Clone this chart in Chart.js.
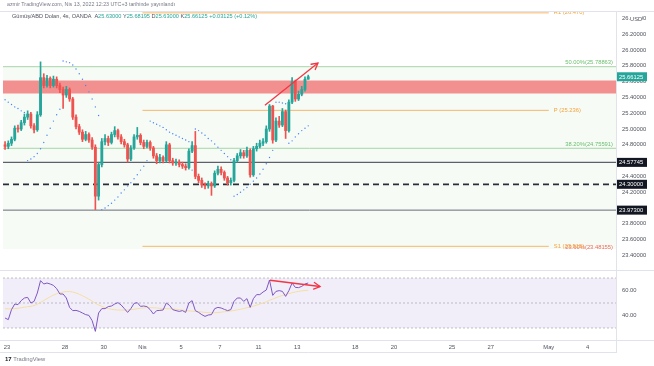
<!DOCTYPE html>
<html>
<head>
<meta charset="utf-8">
<script src="https://cdn.jsdelivr.net/npm/chart.js@4.4.1/dist/chart.umd.min.js"></script>
<style>
  html, body { margin:0; padding:0; background:#ffffff; }
  body { width:654px; height:366px; position:relative; overflow:hidden; font-family:"Liberation Sans", Arial, sans-serif; }
  canvas { position:absolute; left:0; }
  #mainCanvas { top:0; }
  #rsiCanvas { top:270px; }
  .txt { position:absolute; white-space:nowrap; line-height:1; }
  #hdr1 { left:7px; top:2px; font-size:5.3px; color:#787b86; }
  #hdr2 { left:12px; top:14px; font-size:5.6px; color:#50535e; }
  #hdr2 .v { color:#26a69a; }
  #logo { left:5px; top:356px; font-size:5.8px; color:#787b86; }
  #logo b { color:#131722; font-size:6px; }
</style>
</head>
<body>
<canvas id="mainCanvas" width="654" height="270"></canvas>
<canvas id="rsiCanvas" width="654" height="96"></canvas>
<div id="hdr1" class="txt">azmir TradingView.com, Nis 13, 2022 12:23 UTC+3 tarihinde yayınlandı</div>
<div id="hdr2" class="txt">Gümüş/ABD Doları, 4s, OANDA&nbsp; A<span class="v">25.63000</span> Y<span class="v">25.68195</span> D<span class="v">25.63000</span> K<span class="v">25.66125</span> <span class="v">+0.03125 (+0.12%)</span></div>
<div id="logo" class="txt"><b>17</b> TradingView</div>
<script>
// ================= DATA =================
const candleOpen  = [24.80,24.78,24.82,24.87,25.01,25.00,25.08,25.15,25.19,25.04,24.99,25.18,25.65,25.55,25.64,25.55,25.63,25.55,25.50,25.43,25.50,25.38,25.15,25.03,24.96,24.87,24.93,24.86,24.77,24.15,24.55,24.84,24.88,24.83,24.93,24.98,24.90,24.84,24.80,24.62,24.76,24.90,24.92,24.83,24.78,24.83,24.76,24.66,24.60,24.64,24.60,24.80,24.60,24.57,24.58,24.55,24.53,24.51,24.72,24.79,24.40,24.35,24.29,24.28,24.31,24.28,24.44,24.49,24.45,24.38,24.32,24.35,24.60,24.66,24.70,24.66,24.73,24.42,24.75,24.78,24.82,24.84,25.00,25.29,24.86,25.10,25.05,25.22,24.98,25.34,25.60,25.38,25.44,25.50,25.63];
const candleHigh  = [24.84,24.85,24.90,25.04,25.05,25.11,25.19,25.23,25.21,25.07,25.22,25.85,25.70,25.68,25.66,25.67,25.66,25.58,25.53,25.54,25.52,25.40,25.18,25.06,24.99,24.97,24.95,24.89,24.80,24.58,24.88,24.93,24.91,24.96,25.03,25.00,24.93,24.87,24.82,24.79,24.93,25.02,24.94,24.86,24.86,24.85,24.78,24.69,24.68,24.66,24.84,24.82,24.63,24.62,24.61,24.58,24.56,24.75,24.84,24.97,24.43,24.38,24.32,24.34,24.33,24.47,24.53,24.52,24.47,24.40,24.38,24.63,24.69,24.74,24.73,24.77,24.75,24.78,24.82,24.86,24.88,25.04,25.31,25.30,25.14,25.16,25.26,25.24,25.37,25.65,25.62,25.48,25.54,25.66,25.68195];
const candleLow   = [24.74,24.75,24.79,24.85,24.96,24.98,25.05,25.12,25.01,24.95,24.97,25.16,25.52,25.53,25.52,25.53,25.52,25.46,25.26,25.40,25.35,25.12,25.00,24.93,24.84,24.85,24.83,24.74,23.98,24.10,24.52,24.80,24.79,24.81,24.90,24.87,24.81,24.77,24.58,24.60,24.74,24.87,24.80,24.75,24.76,24.73,24.63,24.56,24.57,24.57,24.58,24.57,24.54,24.54,24.52,24.50,24.48,24.49,24.70,24.37,24.32,24.26,24.24,24.25,24.16,24.26,24.42,24.42,24.35,24.29,24.29,24.33,24.58,24.63,24.63,24.64,24.39,24.40,24.72,24.76,24.79,24.82,24.97,24.82,24.84,25.02,25.03,24.88,24.96,25.32,25.35,25.36,25.42,25.48,25.63];
const candleClose = [24.78,24.82,24.87,25.01,25.00,25.08,25.15,25.19,25.04,24.99,25.18,25.65,25.55,25.64,25.55,25.63,25.55,25.50,25.43,25.50,25.38,25.15,25.03,24.96,24.87,24.93,24.86,24.77,24.15,24.55,24.84,24.88,24.83,24.93,24.98,24.90,24.84,24.80,24.62,24.76,24.90,24.92,24.83,24.78,24.83,24.76,24.66,24.60,24.64,24.60,24.80,24.60,24.57,24.58,24.55,24.53,24.51,24.72,24.79,24.40,24.35,24.29,24.28,24.31,24.28,24.44,24.49,24.45,24.38,24.32,24.35,24.60,24.66,24.70,24.66,24.73,24.42,24.75,24.78,24.82,24.84,25.00,25.29,24.86,25.10,25.05,25.22,24.98,25.34,25.60,25.38,25.44,25.50,25.63,25.66125];
const sarValues   = [25.37,25.34,25.31,25.28,25.26,25.23,25.21,
                     24.60,24.62,24.65,24.69,24.75,24.83,24.92,25.01,25.10,25.18,25.25,
                     25.86,25.85,25.84,25.81,25.76,25.70,25.63,25.55,25.47,25.38,25.28,25.17,
                     23.98,24.00,24.03,24.06,24.10,24.14,24.19,24.23,24.28,24.32,24.37,24.42,24.48,24.53,24.60,
                     25.10,25.08,25.06,25.04,25.02,24.99,24.96,24.94,24.92,24.90,24.88,24.86,24.84,
                     24.48,
                     25.00,24.98,24.95,24.92,24.88,24.85,24.81,24.77,24.73,24.69,24.65,24.61,
                     24.15,24.17,24.20,24.23,24.26,24.30,24.34,24.38,24.43,24.49,24.56,24.64,24.73,
                     25.34,25.34,25.33,25.32,
                     24.82,24.85,24.90,24.94,24.98,25.01,25.04];
const rsiValues   = [38,36.7,44.7,49.2,48.7,51.9,54,54.5,50,51.3,
                     58,67.9,65.2,66,65.2,64.1,61.5,57.2,57.2,54,
                     46.5,43.9,44.1,43.3,42,40.7,40.1,35.9,27.3,42,
                     45.5,45.5,47.1,47.6,49.2,50.3,48.4,45.5,42.5,45.5,
                     49.7,50.3,47.3,47.6,47.1,44.7,41.2,43.9,44.1,44.4,
                     50,48.1,44.7,43.9,43.3,43.9,42.5,50,51.9,43.9,
                     42.5,40.7,39.3,40.4,40.7,45.5,46.5,46,44.9,43.9,
                     44.7,51.3,54,54,51.3,53.5,46.5,53.5,56.7,56.7,
                     58.8,60.4,68.4,56.1,59.3,59.9,59.3,55.3,59.9,66,
                     62.5,62.3,63.3,65.2,66];
const rsiMaValues = [45.5,45.3,45.3,45.5,45.8,46.2,46.6,47,47.4,48,
                     49,50.5,52,53.5,55,56.3,57.4,58.2,58.8,59.2,
                     59.2,58.8,58,57,55.8,54.5,53,51.5,49.8,48.5,
                     47.3,46.3,45.6,45,44.6,44.4,44.3,44.3,44.4,44.6,
                     45,45.4,45.8,46.1,46.3,46.3,46.2,46,45.8,45.6,
                     45.5,45.4,45.2,45,44.7,44.4,44,43.7,43.5,43.3,
                     43.1,42.8,42.5,42.3,42.2,42.2,42.4,42.7,43,43.3,
                     43.6,44,44.5,45,45.6,46.2,46.8,47.5,48.3,49.2,
                     50,51,52.2,53.2,54.2,55.2,56,56.8,57.5,58.2,
                     58.8,59.3,59.7,60,60.2];

const firstCandleDay = -0.1;      // trading-day index (0 = 23 Mart) of the first 4h candle
const candlesPerDay  = 6;
const dayTickValues  = [0,3,5,7,9,11,13,15,18,20,23,25,28,30];
const dayTickLabels  = ['23','28','30','Nis','5','7','11','13','18','20','25','27','May','4'];
const priceTickValues = [23.4,23.6,23.8,24.2,24.4,24.8,25.0,25.2,25.4,25.6,25.8,26.0,26.2,26.4];
const rsiTickValues  = [40,60];
const rsiBandLevels  = [70,50,30];
const zonePrices     = [25.45,25.615];
const fibPrices      = [25.78863,24.75591,23.48155];
const fibLabels      = ['50.00%(25.78863)','38.20%(24.75591)','23.60%(23.48155)'];
const pivotPrices    = [26.47,25.236,23.515];
const pivotLabels    = ['R1 (26.470)','P (25.236)','S1 (23.515)'];
const pivotDays      = [7,28];
const levelPrices    = [24.57745,24.3,23.973];
const levelLabels    = ['24.57745','24.30000','23.97300'];
const lastPrice      = 25.66125;
const priceArrow     = [[13.33,25.30],[16.07,25.835]];
const rsiArrow       = [[13.59,68.2],[16.18,63.2]];
const dayRange       = [-0.2067,31.473];
const priceRange     = [23.2152,26.481];
const rsiRange       = [20.4,76.4];

// ================= STYLE =================
const FONT = '"Liberation Sans", Arial, sans-serif';
const UP = '#26a69a', DOWN = '#ef5350';
const AXIS_W = 38;
Chart.defaults.font.family = FONT;

const candleDay = k => firstCandleDay + k / candlesPerDay;
const hline = (v, d0, d1) => [{x:d0, y:v}, {x:d1, y:v}];
const isUp = k => candleClose[k] >= candleOpen[k];
const noPad = s => { s.paddingTop = 0; s.paddingBottom = 0; s.paddingLeft = 0; s.paddingRight = 0; };

function arrowHead(ctx, xs, ys, pts, color) {
  const x0 = xs.getPixelForValue(pts[0][0]), y0 = ys.getPixelForValue(pts[0][1]);
  const x1 = xs.getPixelForValue(pts[1][0]), y1 = ys.getPixelForValue(pts[1][1]);
  const a = Math.atan2(y1 - y0, x1 - x0), L = 7, s = 0.5;
  ctx.save();
  ctx.strokeStyle = color; ctx.lineWidth = 1.3; ctx.lineCap = 'round';
  ctx.beginPath();
  ctx.moveTo(x1 - L*Math.cos(a - s), y1 - L*Math.sin(a - s));
  ctx.lineTo(x1, y1);
  ctx.lineTo(x1 - L*Math.cos(a + s), y1 - L*Math.sin(a + s));
  ctx.stroke();
  ctx.restore();
}

// ================= MAIN PRICE PANE =================
const mainOverlay = {
  id: 'mainOverlay',
  afterDatasetsDraw(chart) {
    const {ctx, chartArea: ca, scales: {x, y}} = chart;
    ctx.save();
    ctx.beginPath(); ctx.rect(ca.left, ca.top, ca.right - ca.left, ca.bottom - ca.top); ctx.clip();
    ctx.font = '5.8px ' + FONT;
    ctx.textAlign = 'right'; ctx.textBaseline = 'bottom';
    fibLabels.forEach((t, i) => {
      ctx.fillStyle = i === 2 ? '#ef6c5a' : '#6cbf6f';
      ctx.fillText(t, ca.right - 3, y.getPixelForValue(fibPrices[i]) + (i === 2 ? 1 : -1));
    });
    ctx.textAlign = 'left'; ctx.textBaseline = 'middle';
    ctx.fillStyle = '#f5a33a';
    pivotLabels.forEach((t, i) => {
      ctx.fillText(t, x.getPixelForValue(pivotDays[1]) + 5, y.getPixelForValue(pivotPrices[i]));
    });
    ctx.restore();
    arrowHead(ctx, x, y, priceArrow, '#f23645');
  },
  afterDraw(chart) {
    const {ctx, chartArea: ca, scales: {y}} = chart;
    ctx.save();
    ctx.strokeStyle = '#e0e3eb'; ctx.lineWidth = 1;
    ctx.beginPath();
    ctx.moveTo(0, ca.top - 0.5); ctx.lineTo(654, ca.top - 0.5);
    ctx.moveTo(ca.right + 0.5, ca.top); ctx.lineTo(ca.right + 0.5, 270);
    ctx.stroke();
    ctx.font = '5.8px ' + FONT; ctx.textAlign = 'left'; ctx.textBaseline = 'middle';
    const box = (v, txt, bg) => {
      const py = y.getPixelForValue(v);
      ctx.fillStyle = bg; ctx.fillRect(ca.right + 1, py - 4.5, 30, 9);
      ctx.fillStyle = '#ffffff'; ctx.fillText(txt, ca.right + 3, py + 0.5);
    };
    levelPrices.forEach((v, i) => box(v, levelLabels[i], '#131722'));
    box(lastPrice, lastPrice.toFixed(5), UP);
    const ty = y.getPixelForValue(priceTickValues[priceTickValues.length - 1]);
    ctx.fillStyle = '#ffffff'; ctx.fillRect(ca.right + 14, ty - 3.5, 12, 7);
    ctx.fillStyle = '#50535e'; ctx.fillText('USD', ca.right + 14, ty + 0.5);
    ctx.restore();
  }
};

const idx = candleClose.map((_, k) => k);
new Chart(document.getElementById('mainCanvas'), {
  type: 'bar',
  data: {
    datasets: [
      { type:'line', order:100, data: hline(fibPrices[0], dayRange[0], dayRange[1]),
        fill: {value: fibPrices[2]}, backgroundColor:'rgba(76,175,80,0.05)', borderColor:'#a5d6a7', borderWidth:1, pointRadius:0 },
      { type:'line', order:95, data: hline(fibPrices[1], dayRange[0], dayRange[1]),
        borderColor:'#a5d6a7', borderWidth:1, pointRadius:0 },
      { type:'line', order:90, data: hline(zonePrices[1], dayRange[0], dayRange[1]),
        fill: {value: zonePrices[0]}, backgroundColor:'#f29090', borderWidth:0, pointRadius:0 },
      ...pivotPrices.map(v => ({ type:'line', order:80, data: hline(v, pivotDays[0], pivotDays[1]),
        borderColor:'#f7b86a', borderWidth:1, pointRadius:0 })),
      { type:'line', order:70, data: hline(levelPrices[0], dayRange[0], dayRange[1]),
        borderColor:'#5d606b', borderWidth:1.3, pointRadius:0 },
      { type:'line', order:70, data: hline(levelPrices[1], dayRange[0], dayRange[1]),
        borderColor:'#2a2e39', borderWidth:1.8, borderDash:[6,4], pointRadius:0 },
      { type:'line', order:70, data: hline(levelPrices[2], dayRange[0], dayRange[1]),
        borderColor:'#6a6d78', borderWidth:1, pointRadius:0 },
      { type:'bar', order:20, grouped:false, barThickness:1,
        data: idx.map(k => ({x: candleDay(k), y: [candleLow[k], candleHigh[k]]})),
        backgroundColor: c => isUp(c.dataIndex) ? UP : DOWN, borderWidth:0 },
      { type:'bar', order:10, grouped:false, barThickness:2.2, minBarLength:1,
        data: idx.map(k => ({x: candleDay(k), y: [candleOpen[k], candleClose[k]]})),
        backgroundColor: c => isUp(c.dataIndex) ? UP : DOWN, borderWidth:0 },
      { type:'scatter', order:5, data: idx.map(k => ({x: candleDay(k), y: sarValues[k]})),
        pointRadius:0.7, pointBackgroundColor:'#4a84f2', pointBorderWidth:0, showLine:false },
      { type:'line', order:1, data: priceArrow.map(p => ({x:p[0], y:p[1]})),
        borderColor:'#f23645', borderWidth:1.3, pointRadius:0 }
    ]
  },
  options: {
    responsive:false, animation:false, events:[],
    layout: { autoPadding:false, padding: {left:3, top:12, right:0, bottom:0} },
    plugins: { legend:{display:false}, tooltip:{enabled:false} },
    scales: {
      x: { type:'linear', display:false, min:dayRange[0], max:dayRange[1], offset:false },
      y: { type:'linear', position:'right', min:priceRange[0], max:priceRange[1],
           grid:{display:false, drawTicks:false}, border:{display:false},
           afterBuildTicks: s => { s.ticks = priceTickValues.map(v => ({value:v})); },
           afterFit: s => { s.width = AXIS_W; noPad(s); },
           ticks: { autoSkip:false, padding:6, color:'#50535e', font:{size:5.8},
                    callback: v => Number(v).toFixed(5) } }
    }
  },
  plugins: [mainOverlay]
});

// ================= RSI PANE =================
const rsiOverlay = {
  id: 'rsiOverlay',
  afterDatasetsDraw(chart) {
    const {ctx, scales: {x, y}} = chart;
    arrowHead(ctx, x, y, rsiArrow, '#f23645');
  },
  afterDraw(chart) {
    const {ctx, chartArea: ca} = chart;
    ctx.save();
    ctx.strokeStyle = '#e0e3eb'; ctx.lineWidth = 1;
    ctx.beginPath();
    ctx.moveTo(0, 0.5); ctx.lineTo(654, 0.5);
    ctx.moveTo(0, ca.bottom + 0.5); ctx.lineTo(654, ca.bottom + 0.5);
    ctx.moveTo(0, 82.5); ctx.lineTo(ca.right + 0.5, 82.5);
    ctx.moveTo(ca.right + 0.5, 0); ctx.lineTo(ca.right + 0.5, 83);
    ctx.stroke();
    ctx.restore();
  }
};

new Chart(document.getElementById('rsiCanvas'), {
  type: 'line',
  data: {
    datasets: [
      { order:100, data: hline(rsiBandLevels[0], dayRange[0], dayRange[1]),
        fill:{value: rsiBandLevels[2]}, backgroundColor:'rgba(126,87,194,0.1)', borderWidth:0, pointRadius:0 },
      ...rsiBandLevels.map(v => ({ order:90, data: hline(v, dayRange[0], dayRange[1]),
        borderColor:'rgba(120,123,134,0.45)', borderWidth:1, borderDash:[2,2], pointRadius:0 })),
      { order:20, data: idx.map(k => ({x: candleDay(k), y: rsiMaValues[k]})),
        borderColor:'#f3dfa2', borderWidth:1, pointRadius:0, tension:0.3 },
      { order:10, data: idx.map(k => ({x: candleDay(k), y: rsiValues[k]})),
        borderColor:'#7e57c2', borderWidth:1, pointRadius:0 },
      { order:1, data: rsiArrow.map(p => ({x:p[0], y:p[1]})),
        borderColor:'#f23645', borderWidth:1.3, pointRadius:0 }
    ]
  },
  options: {
    responsive:false, animation:false, events:[],
    layout: { autoPadding:false, padding: {left:3, top:0, right:0, bottom:0} },
    plugins: { legend:{display:false}, tooltip:{enabled:false} },
    scales: {
      x: { type:'linear', min:dayRange[0], max:dayRange[1], offset:false,
           grid:{display:false, drawTicks:false}, border:{display:false},
           afterBuildTicks: s => { s.ticks = dayTickValues.map(v => ({value:v})); },
           afterFit: s => { s.height = 26; noPad(s); },
           ticks: { autoSkip:false, maxRotation:0, padding:4, color:'#50535e', font:{size:5.8},
                    callback: (v, i) => dayTickLabels[i] } },
      y: { type:'linear', position:'right', min:rsiRange[0], max:rsiRange[1],
           grid:{display:false, drawTicks:false}, border:{display:false},
           afterBuildTicks: s => { s.ticks = rsiTickValues.map(v => ({value:v})); },
           afterFit: s => { s.width = AXIS_W; noPad(s); },
           ticks: { autoSkip:false, padding:6, color:'#50535e', font:{size:5.8},
                    callback: v => Number(v).toFixed(2) } }
    }
  },
  plugins: [rsiOverlay]
});
</script>
</body>
</html>
